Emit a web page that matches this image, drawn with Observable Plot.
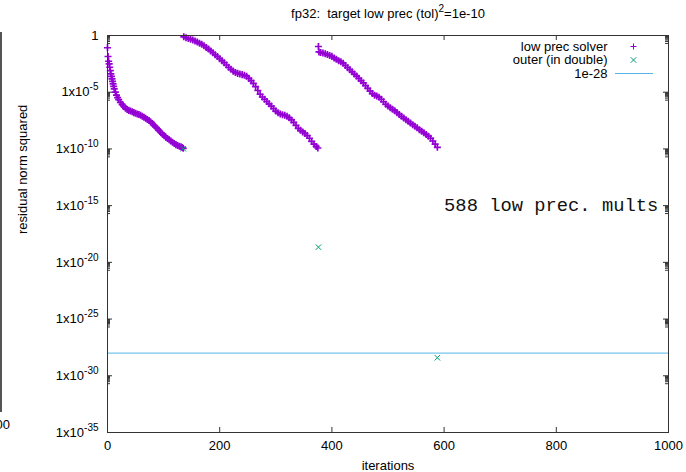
<!DOCTYPE html>
<html><head><meta charset="utf-8">
<script src="https://cdn.jsdelivr.net/npm/d3@7"></script>
<script src="https://cdn.jsdelivr.net/npm/@observablehq/plot@0.6"></script>
<style>
html,body{margin:0;padding:0;background:#fff;}
#wrap{position:relative;width:686px;height:472px;overflow:hidden;background:#fff;}
#frag{position:absolute;left:0;top:32px;width:2px;height:380px;background:#555;}
#fragLabel{position:absolute;right:676px;top:417px;font:13px "Liberation Sans",Arial,sans-serif;white-space:nowrap;}
</style></head><body>
<div id="wrap"><div id="chart"></div><div id="frag"></div><div id="fragLabel">1000</div></div>
<script>
// ---- data (log10 of residual norm squared) ----
const titleText = "fp32:  target low prec (tol)^{2}=1e-10";
const xLabel = "iterations";
const yLabel = "residual norm squared";
const legendLabels = ["low prec solver", "outer (in double)", "1e-28"];
const xTicks = [0, 200, 400, 600, 800, 1000];
const yTickExp = [0, -5, -10, -15, -20, -25, -30, -35];

const seg1Iter = [0,1,2,3,4,5,6,7,8,9,10,11,12,14,16,18,20,23,26,29,32,35,38,41,44,47,50,53,56,59,62,65,68,71,74,77,80,83,86,89,92,95,98,101,104,107,110,113,116,119,122,125,128,131,133,135];
const seg1Exp = [-1.08,-1.85,-2.27,-2.50,-2.80,-3.09,-3.38,-3.60,-3.82,-4.04,-4.26,-4.48,-4.70,-4.99,-5.25,-5.47,-5.65,-5.90,-6.08,-6.25,-6.42,-6.52,-6.60,-6.66,-6.73,-6.80,-6.86,-6.92,-6.97,-7.03,-7.11,-7.20,-7.30,-7.40,-7.50,-7.62,-7.76,-7.92,-8.08,-8.22,-8.38,-8.55,-8.70,-8.84,-8.96,-9.08,-9.20,-9.30,-9.42,-9.52,-9.62,-9.70,-9.76,-9.82,-9.88,-9.95];

const seg2Iter = [136,140,144,148,152,156,160,164,168,172,176,180,184,188,192,196,200,204,208,212,216,220,224,228,232,236,240,244,248,252,256,260,264,268,272,276,280,284,288,292,296,300,304,308,312,316,320,324,328,332,336,340,344,348,352,356,360,364,368,372,375];
const seg2Exp = [-0.12,-0.20,-0.26,-0.32,-0.40,-0.48,-0.58,-0.68,-0.78,-0.90,-1.05,-1.20,-1.36,-1.52,-1.70,-1.86,-2.04,-2.22,-2.40,-2.60,-2.80,-2.98,-3.14,-3.26,-3.34,-3.40,-3.45,-3.50,-3.60,-3.78,-3.98,-4.22,-4.50,-4.85,-5.18,-5.42,-5.62,-5.82,-6.02,-6.22,-6.45,-6.66,-6.82,-6.92,-6.98,-7.04,-7.12,-7.26,-7.44,-7.66,-7.92,-8.18,-8.36,-8.50,-8.64,-8.82,-9.06,-9.34,-9.58,-9.78,-9.92];

const seg3Iter = [376,377,380,384,388,392,396,400,404,408,412,416,420,424,428,432,436,440,444,448,452,456,460,464,468,472,476,480,484,488,492,496,500,504,508,512,516,520,524,528,532,536,540,544,548,552,556,560,564,568,572,576,580,584,588];
const seg3Exp = [-0.97,-1.45,-1.50,-1.55,-1.60,-1.68,-1.76,-1.84,-1.98,-2.10,-2.22,-2.32,-2.44,-2.64,-2.84,-3.02,-3.20,-3.40,-3.58,-3.78,-3.98,-4.18,-4.42,-4.66,-4.90,-5.12,-5.26,-5.34,-5.44,-5.62,-5.84,-6.06,-6.22,-6.36,-6.50,-6.64,-6.80,-6.96,-7.12,-7.28,-7.42,-7.56,-7.72,-7.86,-8.00,-8.14,-8.30,-8.44,-8.58,-8.72,-8.88,-9.06,-9.30,-9.58,-9.86];

const outerIter = [135, 376, 588];
const outerExp = [-9.98, -18.66, -28.41];

const thresholdValue = 1e-28;
const noteText = ["588 low prec. mults"];
const noteIter = 600;
const noteValue = 1e-15;

// ---- styling ----
const purple = "#9400d3", green = "#009e73", blue = "#56b4e9", axisColor = "#333";
const W = 686, H = 472, mL = 107, mR = 18, mT = 35, mB = 40;
const fw = W - mL - mR, fh = H - mT - mB;
const majorLen = 5, minorLen = 3;
const plusR = 2.4, legendPlusR = 2.1, timesR = 2.6;

const zip = (it, ex) => it.map((x, i) => ({iter: x, value: Math.pow(10, ex[i])}));
const lowPrec = [...zip(seg1Iter, seg1Exp), ...zip(seg2Iter, seg2Exp), ...zip(seg3Iter, seg3Exp)];
const outer = zip(outerIter, outerExp);
const yTicks = yTickExp.map(e => Math.pow(10, e));
const yMinor = yTicks.flatMap(M => [2,3,4,5,6,7,8,9].map(k => k * M / 10)).filter(v => v >= 1e-35 && v <= 1);
const fmtY = v => { const e = Math.round(Math.log10(v)); return e === 0 ? "1" : `1x10^{${e}}`; };

const chart = Plot.plot({
  width: W, height: H,
  marginLeft: mL, marginRight: mR, marginTop: mT, marginBottom: mB,
  style: {fontFamily: '"Liberation Sans", Arial, sans-serif', fontSize: "13px", color: "#000", background: "#fff", overflow: "visible"},
  x: {domain: [0, 1000]},
  y: {type: "log", domain: [1e-35, 1]},
  marks: [
    Plot.ruleY([thresholdValue], {stroke: blue, strokeWidth: 1}),
    Plot.dot(lowPrec, {x: "iter", y: "value", symbol: "plus", stroke: purple, fill: "none", r: plusR, strokeWidth: 1.7}),
    Plot.dot(outer, {x: "iter", y: "value", symbol: "times", stroke: green, fill: "none", r: timesR, strokeWidth: 1}),
    Plot.frame({stroke: axisColor, strokeWidth: 1}),
    // inward ticks (mirrored)
    Plot.ruleY(yTicks, {insetRight: fw - majorLen, stroke: axisColor}),
    Plot.ruleY(yTicks, {insetLeft: fw - majorLen, stroke: axisColor}),
    Plot.ruleY(yMinor, {insetRight: fw - minorLen, stroke: axisColor}),
    Plot.ruleY(yMinor, {insetLeft: fw - minorLen, stroke: axisColor}),
    Plot.ruleX(xTicks, {insetTop: fh - majorLen, stroke: axisColor}),
    Plot.ruleX(xTicks, {insetBottom: fh - majorLen, stroke: axisColor}),
    Plot.axisY({ticks: yTicks, tickFormat: fmtY, tickSize: 0, tickPadding: 9, label: null}),
    Plot.axisX({ticks: xTicks, tickFormat: d => String(d), tickSize: 0, tickPadding: 8, label: null}),
    // axis titles and chart title
    Plot.text([xLabel], {text: d => d, frameAnchor: "bottom", dy: 33, lineAnchor: "middle"}),
    Plot.text([yLabel], {text: d => d, frameAnchor: "left", dx: -85, rotate: -90, lineAnchor: "middle"}),
    Plot.text([titleText], {text: d => d, frameAnchor: "top", dy: -21.5, lineAnchor: "middle"}),
    // annotation
    Plot.text(noteText, {text: d => d, x: () => noteIter, y: () => noteValue, textAnchor: "start", lineAnchor: "middle", dy: -1,
      fontFamily: '"Liberation Mono", "Courier New", monospace', fontSize: 18.8, fill: "#111"}),
    // legend
    ...legendLabels.map((t, i) => Plot.text([t], {text: d => d, frameAnchor: "top-right", textAnchor: "end", lineAnchor: "middle", dx: -61, dy: 11 + i * 13.5})),
    Plot.dot([legendLabels[0]], {frameAnchor: "top-right", dx: -35, dy: 11, symbol: "plus", stroke: purple, fill: "none", r: legendPlusR, strokeWidth: 1}),
    Plot.dot([legendLabels[1]], {frameAnchor: "top-right", dx: -35, dy: 24.5, symbol: "times", stroke: green, fill: "none", r: timesR, strokeWidth: 1}),
    Plot.ruleY([1], {insetLeft: fw - 53, insetRight: 15, dy: 38, stroke: blue, strokeWidth: 1})
  ]
});

// render "^{..}" as real superscripts
const NS = "http://www.w3.org/2000/svg";
chart.querySelectorAll("text").forEach(t => {
  const s = t.textContent;
  if (!s.includes("^{")) return;
  const parts = s.split(/\^\{([^}]*)\}/);
  t.textContent = "";
  t.setAttribute("style", (t.getAttribute("style") || "") + ";white-space:pre");
  let raised = false;
  const shift = 6;
  parts.forEach((p, i) => {
    if (p === "") return;
    const sp = document.createElementNS(NS, "tspan");
    sp.textContent = p;
    if (i % 2 === 1) {
      sp.setAttribute("dy", -shift);
      sp.setAttribute("font-size", "10px");
      raised = true;
    } else if (raised) {
      sp.setAttribute("dy", shift);
      raised = false;
    }
    t.appendChild(sp);
  });
});

document.getElementById("chart").appendChild(chart);
</script></body></html>
